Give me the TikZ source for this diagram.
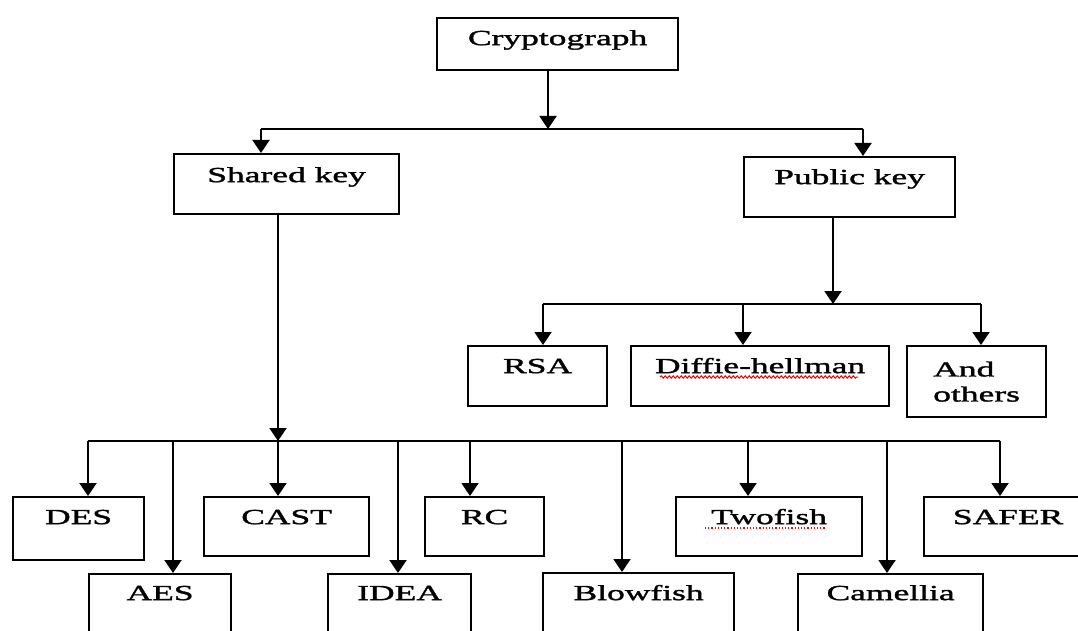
\documentclass[tikz,border=0pt]{standalone}
\usepackage{fontspec}
\setmainfont{Liberation Serif}[FakeStretch=1.65,FakeBold=1.6]
\usetikzlibrary{arrows.meta,decorations.pathmorphing}
\begin{document}
\begin{tikzpicture}[x=1pt,y=-1pt,
  font=\fontsize{21.5}{25}\selectfont,
  frame/.style={draw, line width=2.2pt, inner sep=0pt, anchor=north west},
  box/.style={frame, text height=27pt, text depth=33pt},
  line/.style={line width=2pt},
  arr/.style={line width=2pt, -{Triangle[width=17pt,length=13pt]}}]
\useasboundingbox (0,0) rectangle (1078,631);
\clip (0,0) rectangle (1078,631);
% boxes
\node[box, minimum width=241pt, text depth=25pt] (crypt) at (436,17) {Cryptograph};
\node[box, minimum width=225pt, text height=28pt, text depth=32pt] (shared) at (173,153) {Shared key};
\node[box, minimum width=211pt] (public) at (743,156) {Public key};
\node[box, minimum width=139pt] (rsa) at (467,345) {RSA};
\node[box, minimum width=258pt] (diffie) at (630,345) {Diffie-hellman};
\node[frame, minimum width=139pt, minimum height=71pt, align=left] (others) at (906,345) {And\\others};
\node[box, minimum width=131pt, text depth=36pt] (des) at (12,496) {DES};
\node[box, minimum width=165pt, text depth=32pt] (cast) at (203,496) {CAST};
\node[box, minimum width=119pt, text depth=32pt] (rc) at (424,496) {RC};
\node[box, minimum width=186pt, text depth=32pt] (two) at (675,496) {Twofish};
\node[box, minimum width=168pt, text depth=32pt] (safer) at (923,496) {SAFER};
\node[box, minimum width=142pt, text height=26pt, text depth=54pt] (aes) at (88,573) {AES};
\node[box, minimum width=143pt, text height=26pt, text depth=54pt] (idea) at (327,573) {IDEA};
\node[box, minimum width=191pt, text depth=54pt] (blow) at (542,572) {Blowfish};
\node[box, minimum width=185pt, text height=26pt, text depth=54pt] (cam) at (797,573) {Camellia};
% spell-check marks
\draw[red, line width=1pt, decorate, decoration={snake, amplitude=1.2pt, segment length=4pt}] (660,377) -- (858,377);
\draw[red, line width=1.2pt, dotted] (705,528) -- (825,528);
% level 1
\coordinate (j0) at (548,129);
\coordinate (dShared) at (261,129);
\coordinate (dPublic) at (863,129);
\draw[arr] (crypt.south -| j0) -- (j0);
\draw[line] (dShared) -- (dPublic);
\draw[arr] (dShared) -- (dShared |- shared.north);
\draw[arr] (dPublic) -- (dPublic |- public.north);
% public key branch
\coordinate (j1) at (833,304);
\coordinate (dRsa) at (543,304);
\coordinate (dDiffie) at (743,304);
\coordinate (dOthers) at (981,304);
\draw[arr] (public.south -| j1) -- (j1);
\draw[line] (dRsa) -- (dOthers);
\draw[arr] (dRsa) -- (dRsa |- rsa.north);
\draw[arr] (dDiffie) -- (dDiffie |- diffie.north);
\draw[arr] (dOthers) -- (dOthers |- others.north);
% shared key branch
\coordinate (j2) at (278,441);
\coordinate (dDes) at (88,441);
\coordinate (dAes) at (173,441);
\coordinate (dCast) at (278,441);
\coordinate (dIdea) at (398,441);
\coordinate (dRc) at (470,441);
\coordinate (dBlow) at (622,441);
\coordinate (dTwo) at (748,441);
\coordinate (dCam) at (887,441);
\coordinate (dSafer) at (1000,441);
\draw[arr] (shared.south -| j2) -- (j2);
\draw[line] (dDes) -- (dSafer);
\draw[arr] (dDes) -- (dDes |- des.north);
\draw[arr] (dAes) -- (dAes |- aes.north);
\draw[arr] (dCast) -- (dCast |- cast.north);
\draw[arr] (dIdea) -- (dIdea |- idea.north);
\draw[arr] (dRc) -- (dRc |- rc.north);
\draw[arr] (dBlow) -- (dBlow |- blow.north);
\draw[arr] (dTwo) -- (dTwo |- two.north);
\draw[arr] (dCam) -- (dCam |- cam.north);
\draw[arr] (dSafer) -- (dSafer |- safer.north);
\end{tikzpicture}
\end{document}
